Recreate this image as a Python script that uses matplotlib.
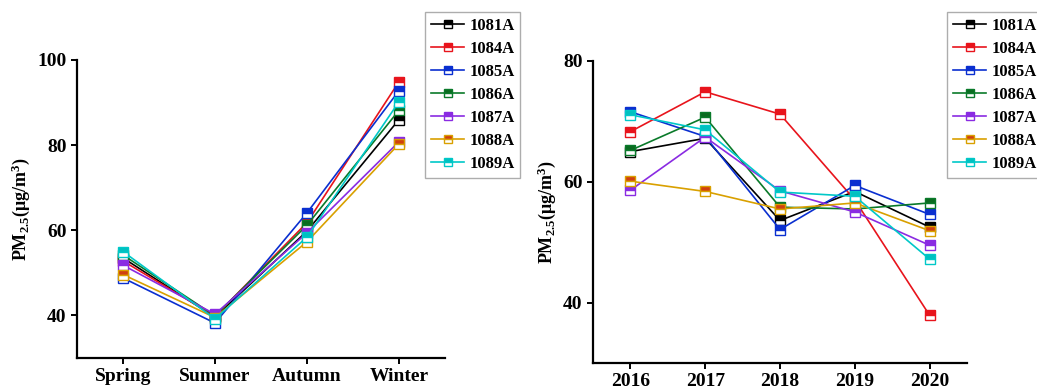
import matplotlib
matplotlib.use("Agg")
from matplotlib import pyplot as plt
import numpy as np

plt.rcParams['font.family'] = ['Liberation Serif', 'DejaVu Serif']
plt.rcParams['font.weight'] = 'bold'
plt.rcParams['mathtext.fontset'] = 'custom'
plt.rcParams['mathtext.rm'] = 'Liberation Serif:bold'
plt.rcParams['mathtext.it'] = 'Liberation Serif:bold'
plt.rcParams['mathtext.bf'] = 'Liberation Serif:bold'

stations = ['1081A', '1084A', '1085A', '1086A', '1087A', '1088A', '1089A']
colors = ['#000000', '#e8141c', '#0a2fd0', '#0a7a2a', '#8a2be2', '#d9a000', '#00c8c8']
# top half of the marker is sometimes a darker shade
top_colors = ['#000000', '#e8141c', '#0a2fd0', '#0a6a20', '#8a2be2', '#d04010', '#00c0c0']

seasons = ['Spring', 'Summer', 'Autumn', 'Winter']
season_vals = {
    '1081A': [53.5, 39.6, 59.8, 86.0],
    '1084A': [52.8, 39.8, 61.8, 94.9],
    '1085A': [48.8, 38.2, 64.1, 92.8],
    '1086A': [54.2, 39.9, 61.2, 88.2],
    '1087A': [51.8, 40.3, 59.4, 80.8],
    '1088A': [49.6, 39.5, 57.3, 80.3],
    '1089A': [55.0, 39.2, 58.4, 90.2],
}

years = [2016, 2017, 2018, 2019, 2020]
year_vals = {
    '1081A': [65.0, 67.2, 53.6, 58.4, 52.5],
    '1084A': [68.3, 74.9, 71.2, 57.0, 37.9],
    '1085A': [71.6, 67.5, 52.1, 59.4, 54.6],
    '1086A': [65.2, 70.7, 55.8, 55.5, 56.5],
    '1087A': [58.6, 67.4, 58.5, 55.0, 49.5],
    '1088A': [60.1, 58.4, 55.5, 56.5, 51.9],
    '1089A': [71.1, 68.6, 58.3, 57.6, 47.2],
}

fig = plt.figure(figsize=(10.37, 3.92), dpi=100)
W, H = 1037, 392
ax1 = fig.add_axes([77 / W, 1 - 358 / H, (445 - 77) / W, (358 - 60) / H])
ax2 = fig.add_axes([593 / W, 1 - 363 / H, (967 - 593) / W, (363 - 61) / H])


def draw(ax, x, vals):
    handles = []
    for i, s in enumerate(stations):
        h, = ax.plot(x, vals[s], '-', color=colors[i], lw=1.2, marker='s', ms=7,
                     fillstyle='top', markerfacecolor=top_colors[i],
                     markerfacecoloralt='white', markeredgecolor=colors[i],
                     markeredgewidth=1.0, label=s)
        handles.append(h)
    for sp in ['top', 'right']:
        ax.spines[sp].set_visible(False)
    for sp in ['left', 'bottom']:
        ax.spines[sp].set_linewidth(1.6)
    ax.tick_params(direction='out', width=1.4, length=4, labelsize=14)
    ax.set_ylabel(r'PM$_{2.5}$(μg/m$^{3}$)', fontsize=13, fontweight='bold')
    return handles


h1 = draw(ax1, np.arange(len(seasons)), season_vals)
ax1.set_xticks(np.arange(len(seasons)))
ax1.set_xticklabels(seasons)
ax1.set_xlim(-0.5, 3.5)
ax1.set_ylim(30, 100)
ax1.set_yticks([40, 60, 80, 100])

h2 = draw(ax2, years, year_vals)
ax2.set_xticks(years)
ax2.set_xlim(2015.5, 2020.5)
ax2.set_ylim(30, 80)
ax2.set_yticks([40, 60, 80])

for ax in (ax1, ax2):
    for lab in ax.get_xticklabels() + ax.get_yticklabels():
        lab.set_fontweight('bold')

leg_kw = dict(frameon=True, fancybox=False, edgecolor='#999999', fontsize=12,
              handlelength=2.0, handletextpad=0.3, labelspacing=0.42,
              borderpad=0.35, borderaxespad=0, markerscale=0.75)
fig.legend(handles=h1, loc='upper left', bbox_to_anchor=(425 / W, 1 - 12 / H), **leg_kw)
fig.legend(handles=h2, loc='upper left', bbox_to_anchor=(947 / W, 1 - 12 / H), **leg_kw)

fig.savefig('out.png', dpi=100)
